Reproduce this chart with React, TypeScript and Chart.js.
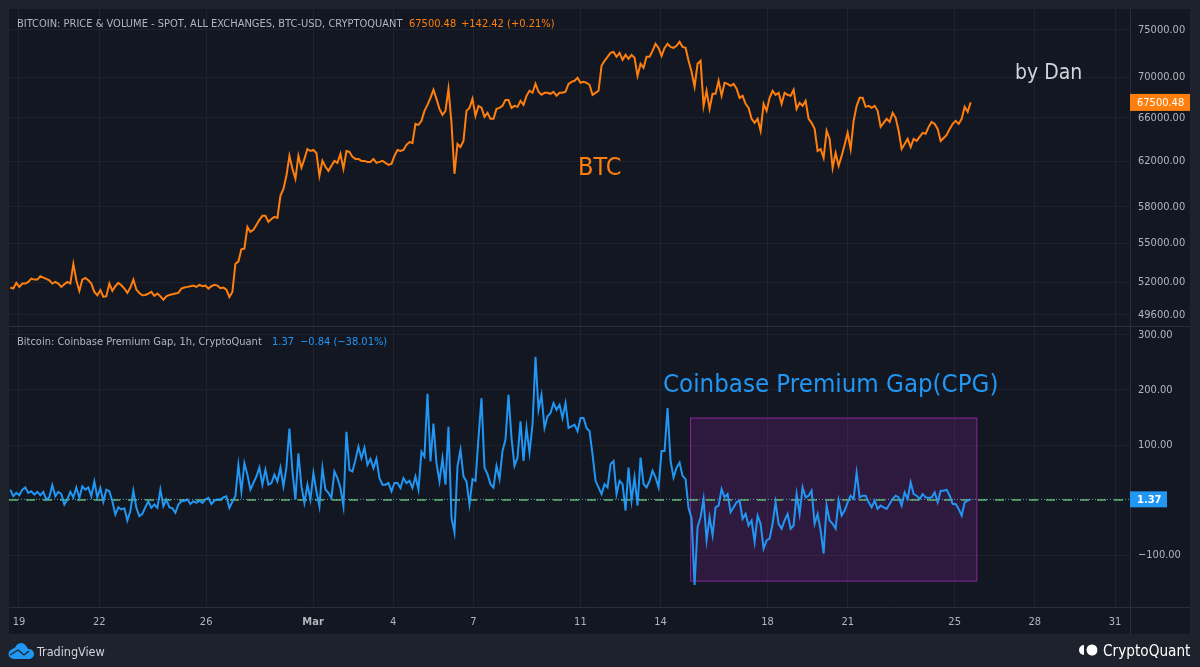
import { useEffect, useRef } from 'react';
import { Chart, registerables } from 'chart.js';

Chart.register(...registerables);

// hourly candles thinned by hand
const priceValues = [
  51600, 51525, 51950, 51650, 51900, 51900, 52025, 52275, 52200, 52200,
  52450, 52350, 52250, 52150, 51900, 52025, 51900, 51650, 51850, 52025,
  51900, 53400, 52150, 51350, 52200, 52325, 52150, 51900, 51275, 51025,
  51400, 50900, 50950, 51900, 51350, 51700, 51950, 51775, 51525, 51200,
  51600, 52200, 51450, 51200, 51025, 51050, 51150, 51275, 50975, 51150,
  50950, 50700, 50950, 51050, 51100, 51150, 51200, 51525, 51600, 51650,
  51700, 51750, 51650, 51800, 51700, 51750, 51525, 51700, 51800, 51750,
  51550, 51600, 51450, 50900, 51275, 53400, 53600, 54550, 54600, 56350,
  55950, 56110, 56510, 56920, 57260, 57260, 56760, 57000, 57170, 57090,
  58950, 59540, 60680, 62460, 61300, 60420, 62460, 61390, 62190, 63090,
  62910, 63000, 62730, 60680, 62010, 61480, 61120, 61570, 62010, 61830,
  62640, 61300, 62910, 62820, 62370, 62190, 62190, 62010, 62010, 61920,
  61920, 62190, 61830, 61920, 62010, 61830, 61660, 61740, 62460, 63000,
  62910, 63000, 63470, 63730, 63640, 65430, 65340, 65720, 66680, 67260,
  67950, 68750, 67850, 66870, 66300, 66680, 68850, 65530, 60860, 63550,
  63270, 63830, 66680, 66970, 67850, 66200, 67160, 66980, 66100, 66490,
  65910, 65910, 66870, 66970, 67170, 67750, 67750, 66970, 67170, 67070,
  67650, 67260, 68150, 68650, 68450, 69350, 68550, 68250, 68450, 68450,
  68350, 68550, 68150, 68450, 68450, 68550, 69350, 69550, 69650, 69960,
  69450, 69550, 69450, 69250, 68250, 68450, 68650, 71180, 71700, 72120,
  72530, 72630, 72120, 72530, 71800, 72320, 71910, 72320, 72010, 70160,
  71390, 70980, 72120, 72120, 72740, 73490, 73060, 72220, 73060, 73490,
  73170, 73060, 73280, 73700, 73170, 73060, 71700, 70570, 69050, 71390,
  71700, 67160, 68650, 66870, 68350, 68350, 69650, 68150, 69450, 69350,
  69150, 69350, 68850, 67950, 68150, 67360, 66970, 65910, 65530, 65910,
  64780, 67360, 66680, 67950, 68650, 68250, 68450, 67360, 68450, 68250,
  68150, 68750, 66870, 67460, 67170, 67650, 65910, 65530, 64960, 62910,
  63090, 62280, 64780, 64020, 61390, 62730, 61570, 62460, 63470, 64590,
  63090, 65720, 67160, 67950, 67950, 67070, 67170, 66970, 67170, 66680,
  65150, 65530, 65910, 65620, 66490, 66010, 64780, 63090, 63550, 64020,
  63270, 64020, 63830, 64210, 64590, 64500, 65150, 65620, 65430, 64960,
  63830, 64110, 64400, 64960, 65430, 65720, 65430, 65910, 67070, 66590,
  67500,
];

const gapValues = [
  19, 7, 13, 9, 19, 23, 13, 16, 10, 15,
  9, 15, 1, 5, 27, 7, 15, 11, -8, 1,
  15, 5, 23, 4, 25, 19, 23, 7, 34, 5,
  22, -3, 19, 16, -2, -26, -13, -17, -15, -37,
  -20, 17, -14, -29, -25, -13, -2, -14, -8, -14,
  19, -11, 1, -13, -15, -23, -8, -2, -1, 1,
  -7, -2, -5, -1, -5, 1, 4, -7, -1, 1,
  1, 5, 7, -14, -3, 7,
  64, 16, 67, 46, 19, 31, 43, 59, 28, 55,
  28, 31, 46, 34, 59, 25, 59, 130, 52, 1,
  85, 25, -5, 28, 1, 49, 16, -11, 58, 19,
  13, 4, 52, 40, 22, -11, 124, 55, 52, 73,
  97, 76, 95, 64, 75, 58, 75, 40, 28, 28,
  31, 16, 31, 31, 22, 40, 31, 35, 22, 43,
  19, 88, 79, 193, 70, 139, 67, 34, 76, 28,
  133, -32, -59, 61, 91, 43, 34, -8,
  38, 35, 113, 185, 59, 47, 29, 23, 62, 38,
  89, 110, 191, 113, 62, 77, 143, 71, 131, 86,
  137, 260, 164, 191, 131, 152, 158, 176, 164, 173,
  149, 176, 131, 134, 137, 125, 149, 149, 131, 125,
  83, 35, 23, 11, 29, 23, 65, 71, 11, 35,
  29, -19, 59, -1, 41, -10, 77, 29, 23, 35,
  53, 41, 23, 89, 89, 167, 71, 41, 59, 68,
  44, 38, -15, -33, -154,
  -49, -31, 2, -73, -31, -64, -13, -10, 20, 5,
  11, -22, -13, -4, -1, -34, -25, -46, -37, -76,
  -28, -43, -88, -73, -70, -43, -4, -43, -52, -37,
  -25, -52, -46, 11, -25, 23, 5, 8, 17, -43,
  -25, -55, -97, -10, -37, -43, -52, -1, -28, -19,
  -4, 8, 2, 50, 5, 8, 8, -4, -13, -1,
  -16, -10, -13, -16, -7, 2, 8, 5, -10, 14,
  2, 32, 11, 8, 2, 11, 5, 4, 5, 14,
  -4, 17, 17, 19, 8, -7, -7, -16, -28, -4,
  -1, 1.37,
];

// x axis is days since 19 Feb, one sample every 0.1122 day
const firstDay = -0.325;
const lastDay = 35.6;
const dayMin = -0.374;
const dayMax = 41.56;
const dayTicks = [0, 3, 7, 11, 14, 17, 21, 24, 28, 31, 35, 38, 41];
const dayLabels = ['19', '22', '26', 'Mar', '4', '7', '11', '14', '18', '21', '25', '28', '31'];

const priceTicks = [75000, 70000, 66000, 62000, 58000, 55000, 52000, 49600];
const gapTicks = [300, 200, 100, -100];
const lastPrice = 67500.48;
const lastGap = 1.37;

// highlighted box in the lower pane
const boxDays = [25.12, 35.83];
const boxGap = [149, -147];

const FONT = "'DejaVu Sans Condensed', 'DejaVu Sans', sans-serif";
const ORANGE = '#ff7f0e';
const BLUE = '#2196f3';

const days = priceValues.map((_, i) => firstDay + (i * (lastDay - firstDay)) / (priceValues.length - 1));

function text(ctx: CanvasRenderingContext2D, s: string, x: number, y: number, color: string, font: string, align: CanvasTextAlign = 'left') {
  ctx.font = font;
  ctx.fillStyle = color;
  ctx.textAlign = align;
  ctx.textBaseline = 'alphabetic';
  ctx.fillText(s, x, y);
}

// the label overhang would otherwise push the panes away from the frame
function noOverhang(scale: any) {
  scale.paddingTop = 0;
  scale.paddingBottom = 0;
  scale.paddingLeft = 0;
  scale.paddingRight = 0;
}

const backdrop = {
  id: 'backdrop',
  beforeDraw(chart: Chart) {
    const { ctx, chartArea, scales } = chart;
    ctx.save();
    ctx.fillStyle = '#1e222d';
    ctx.fillRect(0, 0, chart.width, chart.height);
    ctx.fillStyle = '#131722';
    ctx.fillRect(chartArea.left, chartArea.top, scales.yPrice.right - chartArea.left, scales.x.bottom - chartArea.top);
    ctx.restore();
  },
  beforeDatasetsDraw(chart: Chart) {
    const { ctx, chartArea, scales } = chart;
    const bx = scales.x.getPixelForValue(boxDays[0]);
    const bw = scales.x.getPixelForValue(boxDays[1]) - bx;
    const by = scales.yGap.getPixelForValue(boxGap[0]);
    const bh = scales.yGap.getPixelForValue(boxGap[1]) - by;
    ctx.save();
    ctx.fillStyle = 'rgba(156, 39, 176, 0.2)';
    ctx.fillRect(bx, by, bw, bh);
    ctx.strokeStyle = 'rgba(156, 39, 176, 0.85)';
    ctx.lineWidth = 1;
    ctx.strokeRect(bx, by, bw, bh);
    // pane separator and axis rules
    ctx.strokeStyle = '#2a2e39';
    ctx.beginPath();
    ctx.moveTo(chartArea.left, scales.yPrice.bottom + 0.5);
    ctx.lineTo(scales.yPrice.right, scales.yPrice.bottom + 0.5);
    ctx.moveTo(chartArea.left, scales.x.top + 0.5);
    ctx.lineTo(scales.yPrice.right, scales.x.top + 0.5);
    ctx.moveTo(chartArea.right + 0.5, chartArea.top);
    ctx.lineTo(chartArea.right + 0.5, scales.x.bottom);
    ctx.stroke();
    ctx.restore();
  },
  afterDraw(chart: Chart) {
    const { ctx, chartArea, scales } = chart;
    const small = `11px ${FONT}`;
    ctx.save();

    // legends of the two panes
    text(ctx, 'BITCOIN: PRICE & VOLUME - SPOT, ALL EXCHANGES, BTC-USD, CRYPTOQUANT', 17, 27, '#b2b5be', small);
    text(ctx, '67500.48', 409, 27, ORANGE, small);
    text(ctx, '+142.42 (+0.21%)', 461, 27, ORANGE, small);
    text(ctx, 'Bitcoin: Coinbase Premium Gap, 1h, CryptoQuant', 17, 345, '#b2b5be', small);
    text(ctx, '1.37', 272, 345, BLUE, small);
    text(ctx, '\u22120.84 (\u221238.01%)', 300, 345, BLUE, small);

    // hand written notes
    text(ctx, 'BTC', 578, 175, ORANGE, `25px ${FONT}`);
    text(ctx, 'by Dan', 1015, 79, '#d1d4dc', `21px ${FONT}`);
    text(ctx, 'Coinbase Premium Gap(CPG)', 663, 392, BLUE, `25.6px ${FONT}`);

    // last value tags
    const tagX = chartArea.right;
    const py = scales.yPrice.getPixelForValue(lastPrice);
    ctx.fillStyle = ORANGE;
    ctx.fillRect(tagX, py - 8.5, 60, 17);
    text(ctx, '67500.48', tagX + 7, py + 4, '#ffffff', `11px ${FONT}`);
    const gy = scales.yGap.getPixelForValue(lastGap);
    ctx.fillStyle = BLUE;
    ctx.fillRect(tagX, gy - 8, 37, 16);
    text(ctx, '1.37', tagX + 7, gy + 4, '#ffffff', `bold 11px ${FONT}`);

    // footer marks
    ctx.fillStyle = BLUE;
    ctx.beginPath();
    ctx.moveTo(12, 659);
    ctx.arc(13, 654, 4.5, Math.PI * 0.5, Math.PI * 1.3);
    ctx.arc(21, 649, 6, Math.PI * 1.1, Math.PI * 1.85);
    ctx.arc(29, 654, 5, Math.PI * 1.45, Math.PI * 0.5);
    ctx.closePath();
    ctx.fill();
    ctx.strokeStyle = '#1e222d';
    ctx.lineWidth = 1.2;
    ctx.beginPath();
    ctx.moveTo(10, 655);
    ctx.lineTo(18, 650);
    ctx.lineTo(24, 655);
    ctx.lineTo(29, 651);
    ctx.stroke();
    text(ctx, 'TradingView', 37, 656, '#d1d4dc', `12.5px ${FONT}`);

    ctx.fillStyle = '#ffffff';
    ctx.beginPath();
    ctx.arc(1084, 650, 5, Math.PI * 0.5, Math.PI * 1.5);
    ctx.closePath();
    ctx.fill();
    ctx.beginPath();
    ctx.arc(1092, 650, 5.5, Math.PI * 0.1, Math.PI * 1.9);
    ctx.closePath();
    ctx.fill();
    text(ctx, 'CryptoQuant', 1103, 656, '#ffffff', `15.2px ${FONT}`);
    ctx.restore();
  },
};

export default function App() {
  const canvasRef = useRef<HTMLCanvasElement>(null);

  useEffect(() => {
    if (!canvasRef.current) return;
    const chart = new Chart(canvasRef.current, {
      type: 'line',
      data: {
        datasets: [
          {
            label: 'BTC',
            data: days.map((d, i) => ({ x: d, y: priceValues[i] })),
            yAxisID: 'yPrice',
            borderColor: ORANGE,
            borderWidth: 2,
            pointRadius: 0,
          },
          {
            label: 'CPG',
            data: days.map((d, i) => ({ x: d, y: gapValues[i] })),
            yAxisID: 'yGap',
            borderColor: BLUE,
            borderWidth: 2,
            pointRadius: 0,
            order: 2,
          },
          {
            label: 'Last',
            data: [{ x: dayMin, y: lastGap }, { x: dayMax, y: lastGap }],
            yAxisID: 'yGap',
            borderColor: 'rgba(100, 200, 220, 0.8)',
            borderWidth: 1,
            borderDash: [1, 2],
            pointRadius: 0,
            order: 1,
          },
          {
            label: 'Zero',
            data: [{ x: dayMin, y: 0 }, { x: dayMax, y: 0 }],
            yAxisID: 'yGap',
            borderColor: 'rgba(102, 187, 106, 0.95)',
            borderWidth: 1.5,
            borderDash: [9, 8],
            pointRadius: 0,
            order: 3,
          },
        ],
      },
      plugins: [backdrop],
      options: {
        responsive: false,
        animation: false,
        parsing: false,
        layout: { padding: { left: 9, top: 9, right: 10, bottom: 33 } },
        plugins: {
          legend: { display: false },
          tooltip: { enabled: false },
        },
        scales: {
          x: {
            type: 'linear',
            min: dayMin,
            max: dayMax,
            afterBuildTicks: (scale) => {
              scale.ticks = dayTicks.map((value) => ({ value }));
            },
            afterFit: (scale) => {
              scale.height = 27;
              noOverhang(scale);
            },
            border: { display: false },
            grid: { color: '#1e222d', drawTicks: false },
            ticks: {
              autoSkip: false,
              maxRotation: 0,
              padding: 9,
              color: '#b2b5be',
              font: (ctx) => ({
                family: FONT,
                size: 11,
                weight: ctx.tick && ctx.tick.value === 11 ? 'bold' : 'normal',
              }),
              callback: (value) => dayLabels[dayTicks.indexOf(Number(value))],
            },
          },
          yPrice: {
            type: 'logarithmic',
            position: 'right',
            stack: 'panes',
            stackWeight: 317,
            min: 48800,
            max: 77300,
            afterBuildTicks: (scale) => {
              scale.ticks = priceTicks.map((value) => ({ value }));
            },
            afterFit: (scale) => {
              scale.width = 60;
              noOverhang(scale);
            },
            border: { display: false },
            grid: { color: '#1e222d', drawTicks: false },
            ticks: {
              autoSkip: false,
              crossAlign: 'near',
              padding: 8,
              color: '#b2b5be',
              font: { family: FONT, size: 11 },
              callback: (value) => Number(value).toFixed(2),
            },
          },
          yGap: {
            type: 'linear',
            position: 'right',
            stack: 'panes',
            stackWeight: 281,
            min: -194,
            max: 316,
            afterBuildTicks: (scale) => {
              scale.ticks = gapTicks.map((value) => ({ value }));
            },
            afterFit: (scale) => {
              scale.width = 60;
              noOverhang(scale);
            },
            border: { display: false },
            grid: { color: '#1e222d', drawTicks: false },
            ticks: {
              autoSkip: false,
              crossAlign: 'near',
              padding: 8,
              color: '#b2b5be',
              font: { family: FONT, size: 11 },
              callback: (value) => Number(value).toFixed(2).replace('-', '\u2212'),
            },
          },
        },
      },
    });

    return () => {
      chart.destroy();
    };
  }, []);

  return (
    <div style={{ position: 'fixed', left: 0, top: 0, width: 1200, height: 667 }}>
      <canvas ref={canvasRef} width={1200} height={667} style={{ display: 'block' }}></canvas>
    </div>
  );
}
